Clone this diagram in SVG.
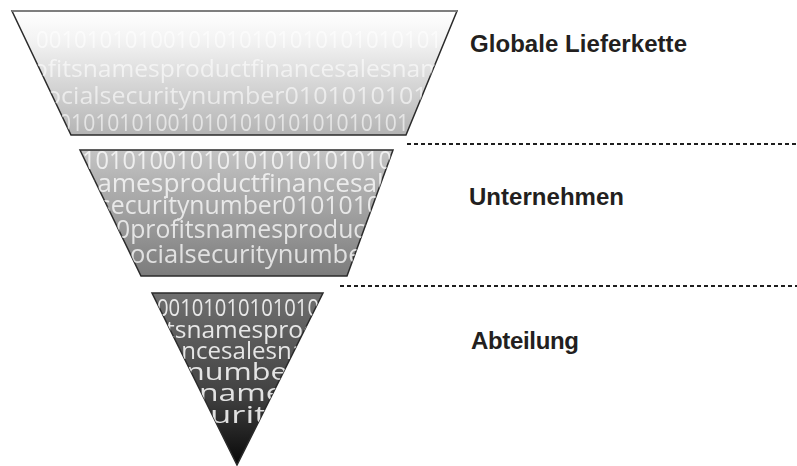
<svg xmlns="http://www.w3.org/2000/svg" width="797" height="466" viewBox="0 0 797 466">
  <defs>
    <linearGradient id="gTop" x1="0" y1="11" x2="0" y2="135" gradientUnits="userSpaceOnUse">
      <stop offset="0" stop-color="#ffffff"/>
      <stop offset="0.25" stop-color="#f2f2f2"/>
      <stop offset="1" stop-color="#b4b4b4"/>
    </linearGradient>
    <linearGradient id="gMid" x1="0" y1="150" x2="0" y2="276" gradientUnits="userSpaceOnUse">
      <stop offset="0" stop-color="#c4c4c4"/>
      <stop offset="1" stop-color="#7c7c7c"/>
    </linearGradient>
    <linearGradient id="gBot" x1="0" y1="293" x2="0" y2="465" gradientUnits="userSpaceOnUse">
      <stop offset="0" stop-color="#707070"/>
      <stop offset="0.6" stop-color="#404040"/>
      <stop offset="1" stop-color="#080808"/>
    </linearGradient>
    <clipPath id="cTop"><polygon points="12,11 457,11 406,135 71,135"/></clipPath>
    <clipPath id="cMid"><polygon points="80,150 393,150 347,276 141,276"/></clipPath>
    <clipPath id="cBot"><polygon points="152,293 323,293 237,465"/></clipPath>
    <filter id="soft" x="-5%" y="-20%" width="110%" height="140%">
      <feGaussianBlur stdDeviation="0.45"/>
    </filter>
  </defs>
  <style>
    .shape { stroke: #2b2b2b; stroke-width: 1.5; stroke-linejoin: miter; }
    .bg { font-family: "Open Sans", "DejaVu Sans", sans-serif; fill: #ffffff; }
    .label { font-family: "Liberation Sans", Arial, sans-serif; font-weight: bold; font-size: 24px; fill: #231f20; }
    .dash { stroke: #1e1e1e; stroke-width: 2; stroke-dasharray: 4 3; fill: none; }
  </style>
  <rect width="797" height="466" fill="#ffffff"/>

  <g id="node-global">
    <polygon class="shape" points="12,11 457,11 406,135 71,135" fill="url(#gTop)"/>
    <line x1="12" y1="11" x2="457" y2="11" stroke="#8a8a8a" stroke-width="1.5"/>
    <g clip-path="url(#cTop)" class="bg" font-size="23" opacity="0.6" filter="url(#soft)">
      <text x="36" y="48" textLength="406" lengthAdjust="spacingAndGlyphs">00101010100101010101010101010101</text>
      <text x="33" y="77" textLength="410" lengthAdjust="spacingAndGlyphs">ofitsnamesproductfinancesalesnam</text>
      <text x="46" y="104" textLength="396" lengthAdjust="spacingAndGlyphs">ocialsecuritynumber01010101010</text>
      <text x="59" y="131" textLength="350" lengthAdjust="spacingAndGlyphs">01010101001010101010101010101</text>
    </g>
    <text class="label" x="470" y="52" textLength="217">Globale Lieferkette</text>
  </g>

  <g id="node-unternehmen">
    <polygon class="shape" points="80,150 393,150 347,276 141,276" fill="url(#gMid)"/>
    <g clip-path="url(#cMid)" class="bg" font-size="25" opacity="0.75" filter="url(#soft)">
      <text x="82" y="169" textLength="310" lengthAdjust="spacingAndGlyphs">10101001010101010101010</text>
      <text x="81" y="192" textLength="330" lengthAdjust="spacingAndGlyphs">namesproductfinancesales</text>
      <text x="99" y="214" textLength="282" lengthAdjust="spacingAndGlyphs">securitynumber0101010</text>
      <text x="116" y="238" textLength="258" lengthAdjust="spacingAndGlyphs">0profitsnamesproduct</text>
      <text x="130" y="263" textLength="243" lengthAdjust="spacingAndGlyphs">ocialsecuritynumber</text>
    </g>
    <text class="label" x="469" y="205" textLength="155">Unternehmen</text>
  </g>

  <g id="node-abteilung">
    <polygon class="shape" points="152,293 323,293 237,465" fill="url(#gBot)"/>
    <g clip-path="url(#cBot)" class="bg" font-size="23" opacity="0.85" filter="url(#soft)">
      <text x="157" y="316" textLength="162" lengthAdjust="spacingAndGlyphs">00101010101010</text>
      <text x="166" y="338" textLength="152" lengthAdjust="spacingAndGlyphs">tsnamesprod</text>
      <text x="168" y="359" textLength="137" lengthAdjust="spacingAndGlyphs">ancesalesna</text>
      <text x="186" y="380" textLength="114" lengthAdjust="spacingAndGlyphs">number</text>
      <text x="199" y="401" textLength="100" lengthAdjust="spacingAndGlyphs">names</text>
      <text x="210" y="423" textLength="74" lengthAdjust="spacingAndGlyphs">urity</text>
    </g>
    <text class="label" x="471" y="349" textLength="108">Abteilung</text>
  </g>

  <g id="connectors">
    <line class="dash" x1="407" y1="144" x2="797" y2="144"/>
    <line class="dash" x1="340" y1="286" x2="797" y2="286"/>
  </g>
</svg>
